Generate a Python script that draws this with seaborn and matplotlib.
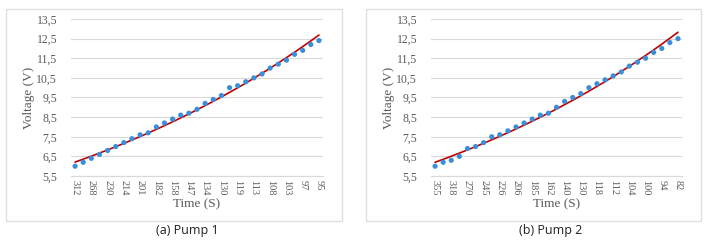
import numpy as np
import pandas as pd
import seaborn as sns
import matplotlib.pyplot as plt
from matplotlib.patches import Rectangle

# ---- data ----
pump1_voltage = [6.0, 6.2, 6.4, 6.6, 6.8, 7.0, 7.2, 7.4, 7.6, 7.7, 8.0, 8.2, 8.4, 8.6, 8.7,
                 8.9, 9.2, 9.4, 9.6, 10.0, 10.1, 10.3, 10.5, 10.7, 11.0, 11.2, 11.4, 11.7,
                 11.9, 12.2, 12.4]
pump1_time_labels = ["312", "268", "230", "214", "201", "182", "158", "147", "134", "130",
                     "119", "113", "108", "103", "97", "95"]

pump2_voltage = [6.0, 6.2, 6.3, 6.5, 6.9, 7.0, 7.2, 7.5, 7.6, 7.8, 8.0, 8.2, 8.4, 8.6, 8.7,
                 9.0, 9.3, 9.5, 9.7, 10.0, 10.2, 10.4, 10.6, 10.8, 11.1, 11.3, 11.5, 11.8,
                 12.0, 12.3, 12.5]
pump2_time_labels = ["355", "318", "270", "245", "226", "206", "185", "162", "140", "130",
                     "118", "112", "104", "100", "94", "82"]

y_ticks = [5.5, 6.5, 7.5, 8.5, 9.5, 10.5, 11.5, 12.5, 13.5]
captions = ["(a) Pump 1", "(b) Pump 2"]

# ---- style ----
sns.set_theme(style="white")
plt.rcParams['font.family'] = ['Liberation Serif', 'DejaVu Serif']

W, H = 708, 245
fig = plt.figure(figsize=(W / 100, H / 100), dpi=100)

GRID = '#D9D9D9'
BOX = '#E0E0E0'
TXT = '#595959'
DOT = '#3A8FDB'
RED = '#C00000'

panels = [
    dict(vals=pump1_voltage, labels=pump1_time_labels, box=(6, 9, 342, 221),
         ax=(71, 323), cap_x=187, cap=captions[0]),
    dict(vals=pump2_voltage, labels=pump2_time_labels, box=(366, 9, 701, 221),
         ax=(431, 682), cap_x=551, cap=captions[1]),
]

for p in panels:
    x0, y0, x1, y1 = p['box']
    fig.patches.append(Rectangle((x0 / W, 1 - y1 / H), (x1 - x0) / W, (y1 - y0) / H,
                                 transform=fig.transFigure, fill=False,
                                 edgecolor=BOX, linewidth=1.0))
    l, r = p['ax']
    ax = fig.add_axes([l / W, 1 - 176 / H, (r - l) / W, (176 - 19) / H])
    ax.set_facecolor('none')

    n = len(p['vals'])
    idx = np.arange(n)
    df = pd.DataFrame({'idx': idx, 'v': p['vals']})

    # exponential trendline
    coef = np.polyfit(idx, np.log(df['v']), 1)
    trend = np.exp(np.polyval(coef, idx))
    sns.lineplot(x=idx, y=trend, ax=ax, color=RED, linewidth=1.2, zorder=2)
    sns.scatterplot(data=df, x='idx', y='v', ax=ax, color=DOT, s=14,
                    edgecolor='none', zorder=3)

    ax.set_ylim(5.5, 13.5)
    ax.set_xlim(-0.5, n - 0.5)
    ax.set_yticks(y_ticks)
    ax.set_yticklabels([f"{t:.1f}".replace('.', ',') for t in y_ticks])
    ax.set_xticks(idx[::2])
    ax.set_xticklabels(p['labels'], rotation=270)
    ax.set_xticks(np.arange(-0.5, n, 1), minor=True)
    ax.tick_params(axis='x', which='major', length=0, labelsize=7.5, colors=TXT, pad=3)
    ax.tick_params(axis='x', which='minor', length=3, color=GRID, width=0.8)
    ax.tick_params(axis='y', length=0, labelsize=8.5, colors=TXT, pad=10)

    ax.yaxis.grid(True, color=GRID, linewidth=0.8)
    ax.set_axisbelow(True)
    for s in ['top', 'right', 'left']:
        ax.spines[s].set_visible(False)
    ax.spines['bottom'].set_color(GRID)
    ax.spines['bottom'].set_linewidth(0.8)

    ax.set_xlabel("Time (S)", fontsize=9.5, color=TXT, labelpad=2)
    ax.set_ylabel("Voltage (V)", fontsize=9.5, color=TXT, labelpad=1)

    fig.text(p['cap_x'] / W, 1 - 230 / H, p['cap'], family=['Open Sans', 'DejaVu Sans'],
             fontsize=9, ha='center', va='center', color='#222222')

fig.savefig('out.png', dpi=100, facecolor='white')
